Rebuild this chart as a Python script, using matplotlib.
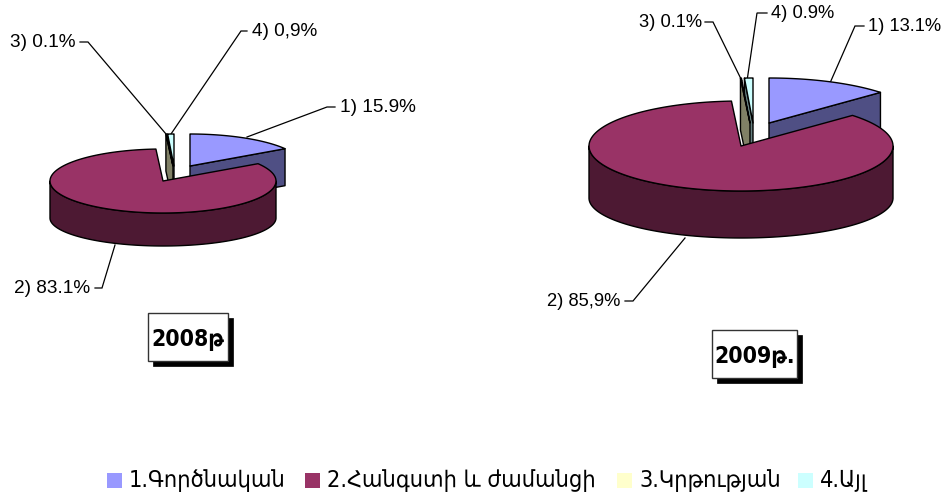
import numpy as np
import matplotlib
matplotlib.use('Agg')
import matplotlib.pyplot as plt
from matplotlib.patches import Polygon, Rectangle

# values
categories = ['1.Գործնական', '2.Հանգստի և ժամանցի', '3.Կրթության', '4.Այլ']
shares_2008 = [15.9, 83.1, 0.1, 0.9]
shares_2009 = [13.1, 85.9, 0.1, 0.9]
labels_2008 = ['1) 15.9%', '2) 83.1%', '3) 0.1%', '4) 0,9%']
labels_2009 = ['1) 13.1%', '2) 85,9%', '3) 0.1%', '4) 0.9%']
titles = ['2008թ', '2009թ.']

top_colors = ['#9999ff', '#993366', '#ffffcc', '#ccffff']
side_colors = ['#4f4f84', '#4d1933', '#808066', '#668080']

W, H = 945, 498
fig = plt.figure(figsize=(W / 100, H / 100), dpi=100)
ax = fig.add_axes([0, 0, 1, 1])
ax.set_xlim(0, W)
ax.set_ylim(H, 0)
ax.axis('off')

LABEL_FONT = 'Liberation Sans'


def rim(c, rx, ry, a0, a1):
    t = np.radians(np.linspace(a0, a1, 200))
    return np.column_stack([c[0] + rx * np.cos(t), c[1] - ry * np.sin(t)])


def poly(pts, color, z):
    ax.add_patch(Polygon(pts, closed=True, fc=color, ec='black', lw=1.0,
                         joinstyle='round', zorder=z))


def draw_pie(shares, apexes, rx, ry, depth, ry_low):
    # clockwise from 12 o'clock, every slice has its own (exploded) apex
    ends = 90 - np.cumsum(shares) / np.sum(shares) * 360
    starts = np.r_[90, ends[:-1]]

    # slice 1: cut face, then top
    c = np.array(apexes[0], float)
    e = rim(c, rx, ry, ends[0], ends[0])[0]
    poly([c, e, e + [0, depth], c + [0, depth]], side_colors[0], 2)
    poly(np.vstack([c, rim(c, rx, ry, starts[0], ends[0])]), top_colors[0], 3)

    # the two thin slices, slice 4 behind slice 3
    for i in [3, 2]:
        c = np.array(apexes[i], float)
        e = rim(c, rx, ry, starts[i], starts[i])[0]
        poly([c, e, e + [0, depth], c + [0, depth]], side_colors[i], 4)
        poly(np.vstack([c, rim(c, rx, ry, starts[i], ends[i])]), top_colors[i], 5)

    # main slice: front wall and top
    c = np.array(apexes[1], float)
    upper = rim(c, rx, ry, 180, 360)
    lower = rim(c + [0, depth], rx, ry_low, 360, 180)
    poly(np.vstack([upper, lower]), side_colors[1], 6)
    poly(np.vstack([c, rim(c, rx, ry, starts[1], ends[1])]), top_colors[1], 7)


def leader(text, text_xy, ha, pts, size=13.7):
    ax.plot(*zip(*pts), color='black', lw=0.9, zorder=1, solid_joinstyle='miter')
    ax.text(text_xy[0], text_xy[1], text, ha=ha, va='center', fontsize=size,
            family=LABEL_FONT, color='black')


def title_box(text, x0, y0, x1, y1):
    ax.add_patch(Rectangle((x0 + 5, y0 + 5), x1 - x0, y1 - y0, fc='black', ec='black', lw=0.5))
    ax.add_patch(Rectangle((x0, y0), x1 - x0, y1 - y0, fc='white', ec='#333333', lw=1.0))
    ax.text((x0 + x1) / 2, (y0 + y1) / 2 + 2, text, ha='center', va='center', fontsize=16.5,
            fontweight='bold', family='DejaVu Sans', stretch='condensed')


# 2008
draw_pie(shares_2008,
         [(190, 166), (163, 181), (173, 166), (174, 166)],
         rx=113, ry=32, depth=37, ry_low=28)
leader(labels_2008[0], (340, 107), 'left', [(335, 107), (327, 107), (247, 137)])
leader(labels_2008[1], (90, 288), 'right', [(95, 288), (102, 288), (115, 245)])
leader(labels_2008[2], (76, 42), 'right', [(80, 42), (88, 42), (166, 134)])
leader(labels_2008[3], (252, 31), 'left', [(247, 31), (241, 31), (171, 134)])
title_box(titles[0], 148, 313, 228, 361)

# 2009
draw_pie(shares_2009,
         [(769, 123), (741, 146), (750, 123), (753, 123)],
         rx=152, ry=45, depth=52, ry_low=40)
leader(labels_2009[0], (868, 26), 'left', [(864, 26), (855, 26), (830, 83)], size=13.2)
leader(labels_2009[1], (620, 301), 'right', [(625, 301), (633, 301), (685, 238)], size=13.2)
leader(labels_2009[2], (702, 22), 'right', [(705, 22), (713, 22), (742, 81)], size=13.2)
leader(labels_2009[3], (771, 13), 'left', [(767, 13), (757, 13), (747, 81)], size=13.2)
title_box(titles[1], 712, 330, 797, 378)

# legend
swatch_x = [107, 305, 617, 798]
for name, color, x in zip(categories, top_colors, swatch_x):
    ax.add_patch(Rectangle((x, 473), 15, 15, fc=color, ec='none'))
    ax.text(x + 22, 480, name, ha='left', va='center', fontsize=16.8,
            family='DejaVu Sans', stretch='condensed', color='black')

fig.savefig('out.png', dpi=100)
